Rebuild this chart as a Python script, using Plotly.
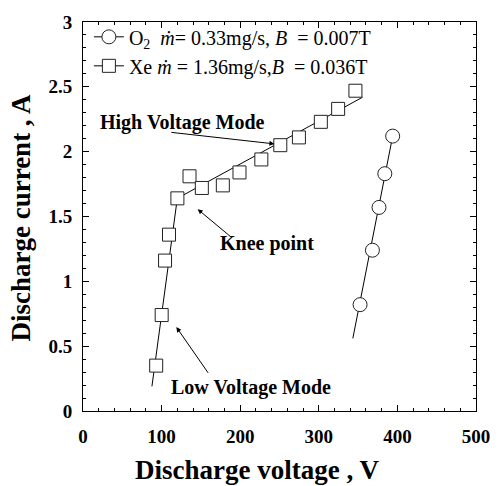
import plotly.graph_objects as go

# ---- data ----
xe_voltage = [93.1, 100.1, 104.4, 109.4, 120.1, 135.5, 151.2, 177.9, 199.1, 226.9, 251.0, 274.7, 302.6, 324.6, 346.6]
xe_current = [0.35, 0.74, 1.16, 1.36, 1.64, 1.81, 1.72, 1.74, 1.84, 1.94, 2.05, 2.11, 2.23, 2.33, 2.47]
xe_fit_voltage = [87.7, 120.0, 355.7]
xe_fit_current = [0.19, 1.64, 2.42]

o2_voltage = [352.5, 368.2, 376.6, 384.0, 394.0]
o2_current = [0.82, 1.24, 1.57, 1.83, 2.12]
o2_fit_voltage = [343.3, 394.0]
o2_fit_current = [0.56, 2.12]

o2_label = "O<sub>2</sub>  <i>ṁ</i>= 0.33mg/s, <i>B</i>  = 0.007T"
xe_label = "Xe <i>ṁ</i> = 1.36mg/s,<i>B</i>  = 0.036T"

x_ticks = [0, 100, 200, 300, 400, 500]
y_ticks = [0, 0.5, 1, 1.5, 2, 2.5, 3]

SERIF = "Liberation Serif"

fig = go.Figure()

# fit lines
fig.add_trace(go.Scatter(x=o2_fit_voltage, y=o2_fit_current, mode="lines",
                         line=dict(color="black", width=1), showlegend=False, hoverinfo="skip"))
fig.add_trace(go.Scatter(x=xe_fit_voltage, y=xe_fit_current, mode="lines",
                         line=dict(color="black", width=1), showlegend=False, hoverinfo="skip"))
# data markers
fig.add_trace(go.Scatter(x=o2_voltage, y=o2_current, mode="markers",
                         marker=dict(symbol="circle", size=14, color="white",
                                     line=dict(color="#222", width=1)),
                         showlegend=False))
fig.add_trace(go.Scatter(x=xe_voltage, y=xe_current, mode="markers",
                         marker=dict(symbol="square", size=13, color="white",
                                     line=dict(color="#222", width=1)),
                         showlegend=False))
# legend entries
fig.add_trace(go.Scatter(x=[None], y=[None], mode="lines+markers", name=o2_label,
                         line=dict(color="black", width=1),
                         marker=dict(symbol="circle", size=14, color="white",
                                     line=dict(color="#222", width=1))))
fig.add_trace(go.Scatter(x=[None], y=[None], mode="lines+markers", name=xe_label,
                         line=dict(color="black", width=1),
                         marker=dict(symbol="square", size=13, color="white",
                                     line=dict(color="#222", width=1))))

axis_common = dict(showline=True, linecolor="black", linewidth=1, mirror="ticks",
                   ticks="inside", ticklen=6, tickcolor="black", showgrid=False,
                   zeroline=False,
                   tickfont=dict(family=SERIF, size=19, color="black", weight="bold"))

fig.update_xaxes(range=[0, 500], tickvals=x_ticks, ticktext=[str(v) for v in x_ticks],
                 minor=dict(dtick=20, ticks="inside", ticklen=3, tickcolor="black"),
                 ticklabelstandoff=8, **axis_common)
fig.update_yaxes(range=[0, 3], tickvals=y_ticks, ticktext=[f"{v:g}" for v in y_ticks],
                 minor=dict(dtick=0.1, ticks="inside", ticklen=3, tickcolor="black"),
                 ticklabelstandoff=6, **axis_common)

ann_font = dict(family=SERIF, size=20, color="black", weight="bold")
annotations = [
    dict(text="High Voltage Mode", x=126, y=2.225, xref="x", yref="y", showarrow=False, font=ann_font),
    dict(text="", x=243.5, y=2.06, ax=110.6, ay=2.15, axref="x", ayref="y", xref="x", yref="y",
         showarrow=True, arrowhead=2, arrowsize=1, arrowwidth=1, arrowcolor="black"),
    dict(text="Knee point", x=234.4, y=1.29, xref="x", yref="y", showarrow=False, font=ann_font),
    dict(text="", x=145.9, y=1.556, ax=189.5, ay=1.336, axref="x", ayref="y", xref="x", yref="y",
         showarrow=True, arrowhead=2, arrowsize=1, arrowwidth=1, arrowcolor="black"),
    dict(text="Low Voltage Mode", x=213.2, y=0.18, xref="x", yref="y", showarrow=False, font=ann_font),
    dict(text="", x=118.8, y=0.647, ax=160.5, ay=0.283, axref="x", ayref="y", xref="x", yref="y",
         showarrow=True, arrowhead=2, arrowsize=1, arrowwidth=1, arrowcolor="black"),
    dict(text="Discharge voltage , V", x=0.443, y=-0.151, xref="paper", yref="paper",
         xanchor="center", yanchor="middle", showarrow=False,
         font=dict(family=SERIF, size=27, color="black", weight="bold")),
    dict(text="Discharge current , A", x=-0.158, y=0.497, xref="paper", yref="paper", textangle=-90,
         xanchor="center", yanchor="middle", showarrow=False,
         font=dict(family=SERIF, size=27, color="black", weight="bold")),
]

fig.update_layout(
    width=502, height=486,
    margin=dict(l=83, r=18, t=12, b=75),
    paper_bgcolor="white", plot_bgcolor="white",
    annotations=annotations,
    legend=dict(x=0.015, y=1.012, xanchor="left", yanchor="top", bgcolor="rgba(0,0,0,0)",
                font=dict(family=SERIF, size=20, color="black"), tracegroupgap=0),
)

fig.write_html("out.html")
